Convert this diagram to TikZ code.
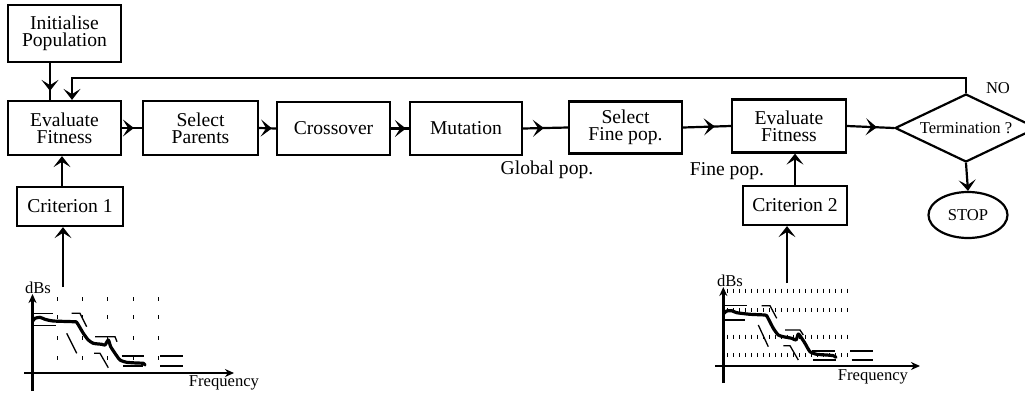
\documentclass[tikz,border=0pt]{standalone}
\usepackage{fontspec}
\setmainfont{Liberation Serif}
\usetikzlibrary{arrows.meta,decorations.markings,shapes.geometric}
\begin{document}
\begin{tikzpicture}[x=0.5pt,y=-0.5pt,
  myarr/.tip={Stealth[length=5.5pt,width=8.5pt,inset=2.6pt]},
  axtip/.tip={Stealth[length=4.5pt,width=4pt]},
  box/.style={draw,line width=1.1pt,inner sep=0pt,align=center,
    font=\fontsize{9.8pt}{8.4pt}\selectfont},
  conn/.style={line width=1.1pt},
  marr/.style={postaction={decorate,decoration={markings,
    mark=at position #1 with {\arrow{myarr}}}}},
  lbl/.style={inner sep=0pt,font=\fontsize{9.8pt}{8.4pt}\selectfont},
  small/.style={inner sep=0pt,font=\fontsize{8.3pt}{8.3pt}\selectfont},
  axis/.style={line width=1.2pt},
  tick/.style={line width=0.5pt},
  bound/.style={line width=0.65pt},
  curve/.style={line width=1.6pt,line join=round,line cap=round}]
\useasboundingbox (0,0) rectangle (1025,392);

% boxes
\node[box,minimum width=56.5pt,minimum height=28.5pt] (init) at (64.5,33.5) {Initialise\\Population};
\node[box,minimum width=56.5pt,minimum height=27pt] (eval1) at (64.5,128) {Evaluate\\Fitness};
\node[box,minimum width=57.5pt,minimum height=27pt] (selp) at (200.5,128) {Select\\Parents};
\node[box,minimum width=56.5pt,minimum height=26.5pt] (cross) at (333.5,128.5) {Crossover};
\node[box,minimum width=56pt,minimum height=26.5pt] (mut) at (466,128.5) {Mutation};
\node[box,minimum width=56.5pt,minimum height=26pt] (self) at (625.5,127.5) {Select\\Fine pop.};
\node[box,minimum width=57pt,minimum height=26.5pt] (eval2) at (789,126) {Evaluate\\Fitness};
\node[box,minimum width=53pt,minimum height=19.5pt] (crit1) at (70,206.5) {Criterion 1};
\node[box,minimum width=52pt,minimum height=19.5pt] (crit2) at (795,205.5) {Criterion 2};
\node[draw,line width=1.1pt,shape=diamond,inner sep=0pt,minimum width=71pt,minimum height=34pt,aspect=2.09,
  font=\fontsize{8.3pt}{8.3pt}\selectfont] (dia) at (966,128) {Termination ?};
\node[draw,line width=1.1pt,ellipse,inner sep=0pt,minimum width=39.5pt,minimum height=23pt,
  font=\fontsize{8.3pt}{8.3pt}\selectfont] (stop) at (968,215) {STOP};

% labels
\node[lbl] (gpop) at (547,170) {Global pop.};
\node[lbl] (fpop) at (727,171) {Fine pop.};
\node[small] (no) at (998,88) {NO};

% helper coordinates
\coordinate (ix) at (50,0);
\coordinate (fb) at (72,78);
\coordinate (cx1) at (62,0);
\coordinate (ch1) at (63,287);
\coordinate (ch2) at (787,283);

% connectors
\draw[conn,marr=-4.5pt] (init.south -| ix) -- (eval1.north -| ix);
\draw[conn,-{myarr}] (dia.north) |- (fb) -- (eval1.north -| fb);
\draw[conn,marr=-4pt] (eval1.east) -- (selp.west);
\draw[conn,marr=-2pt] (selp.east) -- (cross.west);
\draw[conn,marr=-1.5pt] (cross.east) -- (mut.west);
\draw[conn,marr=-12pt] (mut.east) -- (self.west);
\draw[conn,marr=-8pt] (self.east) -- (eval2.west);
\draw[conn,marr=-8.5pt] (eval2.east) -- (dia.west);
\draw[conn,-{myarr}] (dia.south) -- (stop.north);
\draw[conn,-{myarr}] (crit1.north -| cx1) -- (eval1.south -| cx1);
\draw[conn,-{myarr}] (ch1) -- (crit1.south -| ch1);
\draw[conn,-{myarr}] (crit2.north) -- (eval2.south -| crit2.north);
\draw[conn,-{myarr}] (ch2) -- (crit2.south -| ch2);

% ---------- chart 1 ----------
\draw[axis,-{axtip}] (32.5,391) -- (32.5,294);
\draw[axis,-{axtip}] (24,373) -- (234,373);
\node[small] (dbs1) at (38,288) {dBs};
\node[small] (fr1) at (224,383) {Frequency};
\foreach \xx in {57,82,107,133,158}
  \foreach \yy in {299,317,338,358}
    \draw[tick] (\xx,{\yy-2}) -- (\xx,{\yy+2});
\draw[bound] (32.7,313.3) -- (53.3,313.3);
\draw[bound] (71.7,313.3) -- (80,313.3) -- (86.7,326.7);
\draw[bound] (95,336.7) -- (115,336.7) -- (117,341.7);
\draw[bound] (121.7,356) -- (144,356);
\draw[bound] (160,356) -- (183.3,356);
\draw[bound] (32.7,325.7) -- (56,325.7);
\draw[bound] (66.7,333.3) -- (76.7,353.3);
\draw[bound] (94,353.3) -- (100,353.3) -- (108.3,367.7);
\draw[bound] (123.3,366) -- (143.3,366);
\draw[bound] (160,366) -- (183.3,366);
\draw[curve] plot[smooth,tension=0.35] coordinates {(32.7,321) (35,318.3) (40,317.3) (45,319.3) (53.3,321) (73.3,321.7) (76.7,322.3) (83.3,333.3) (88.3,340) (93.3,343.3) (101.7,344.3) (105,345) (108.3,340) (110.7,346.7) (115,353.3) (120,360) (126.7,362.3) (136.7,363) (143.3,363.3) (145,365)};

% ---------- chart 2 ----------
\draw[axis,-{axtip}] (723.3,383) -- (723.3,287);
\draw[axis,-{axtip}] (715,366) -- (920,366);
\node[small] (dbs2) at (730,281) {dBs};
\node[small] (fr2) at (873,377) {Frequency};
\foreach \yy in {290.7,310,336.7,355}
  \foreach \xx in {727,733,...,847}
    \draw[tick] (\xx,{\yy-2}) -- (\xx,{\yy+2});
\draw[bound] (725,305.7) -- (746.7,305.7);
\draw[bound] (761.7,305.7) -- (770,305.7) -- (776.7,318.3);
\draw[bound] (785,330) -- (800,330) -- (803.3,335);
\draw[bound] (811.7,351) -- (835,351);
\draw[bound] (850,351) -- (873.3,351);
\draw[bound] (725,320) -- (745,320);
\draw[bound] (758.3,325) -- (768.3,346.7);
\draw[bound] (783.3,345.7) -- (790,345.7) -- (798.3,360);
\draw[bound] (813.3,360) -- (836,360);
\draw[bound] (851.7,360) -- (873.3,360);
\draw[curve] plot[smooth,tension=0.35] coordinates {(724,313.3) (726.7,311) (731.7,310.7) (736.7,312.7) (750,314.3) (765,315) (766.7,315.7) (773.3,328.3) (778.3,335) (783.3,336.7) (791.7,338.3) (796,340) (798.3,334) (800.7,336.7) (805,343.3) (810,351.7) (816.7,354.3) (826.7,355) (833.3,355.7) (836,357.3)};
\end{tikzpicture}
\end{document}
